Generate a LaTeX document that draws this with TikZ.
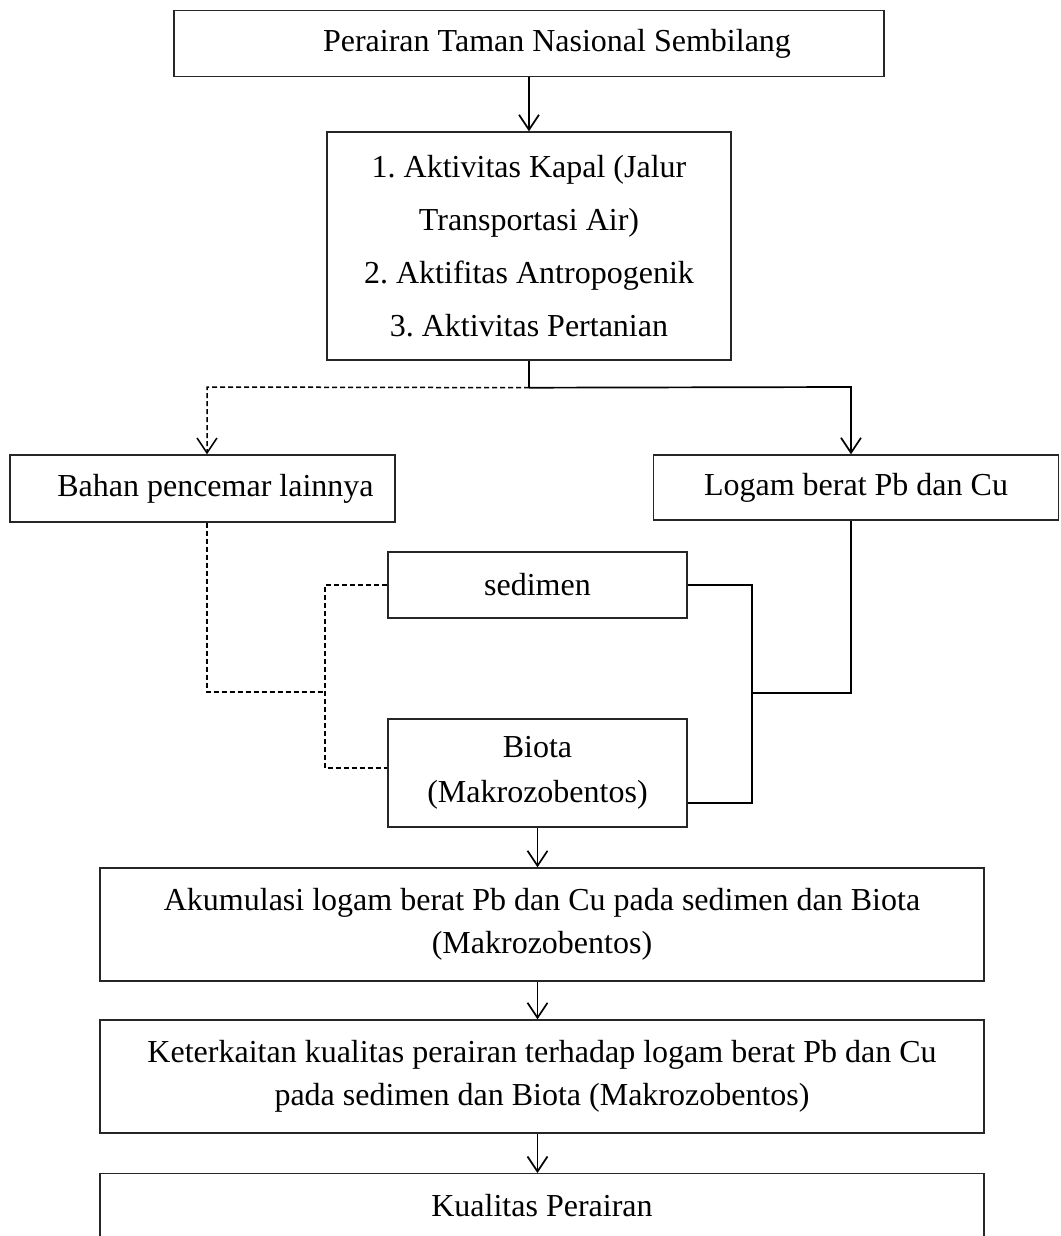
\documentclass[tikz,border=0pt]{standalone}
\usepackage{fontspec}
\setmainfont{Liberation Serif}
\usetikzlibrary{arrows.meta,calc}
\frenchspacing
\begin{document}
\begin{tikzpicture}[x=1pt,y=-1pt,
  box/.style={draw=black!85, line width=1.4pt, rectangle, inner sep=0pt, align=center,
    font=\fontsize{32}{43}\selectfont},
  conn/.style={line width=1.7pt},
  dconn/.style={line width=1.5pt, dash pattern=on 5pt off 3pt},
  arr/.style={-{Straight Barb[length=15pt,width=20pt]}}
]
\useasboundingbox (0,0) rectangle (1060,1236);
\clip (0,0) rectangle (1060,1236);

\node[box, minimum width=710pt, minimum height=66pt] (top) at (529,43.5) {\hspace*{56pt}Perairan Taman Nasional Sembilang};
\node[box, minimum width=404pt, minimum height=228pt, font=\fontsize{32}{53}\selectfont] (act) at (529,246)
  {1. Aktivitas Kapal (Jalur\\Transportasi Air)\\2. Aktifitas Antropogenik\\3. Aktivitas Pertanian};
\node[box, minimum width=385pt, minimum height=67pt] (bahan) at (202.5,488.5) {\hspace*{26pt}Bahan pencemar lainnya};
\node[box, minimum width=405pt, minimum height=65pt] (logam) at (856,487.5) {Logam berat Pb dan Cu};
\node[box, minimum width=299pt, minimum height=66pt] (sed) at (537.5,585) {sedimen};
\node[box, minimum width=299pt, minimum height=108pt, font=\fontsize{32}{45}\selectfont] (biota) at (537.5,773) {Biota\\(Makrozobentos)};
\node[box, minimum width=884pt, minimum height=113pt] (akum) at (542,924.5)
  {Akumulasi logam berat Pb dan Cu pada sedimen dan Biota\\(Makrozobentos)};
\node[box, minimum width=884pt, minimum height=113pt] (ket) at (542,1076.5)
  {Keterkaitan kualitas perairan terhadap logam berat Pb dan Cu\\pada sedimen dan Biota (Makrozobentos)};
\node[box, minimum width=884pt, anchor=north, inner ysep=0pt, text height=43pt, text depth=60pt] (kual) at (542,1173)
  {Kualitas Perairan};

% top part
\draw[conn,arr] (top.south) -- (act.north);
\coordinate (split) at ($(act.south)+(0,27)$);
\coordinate (dl) at (207,387);
\coordinate (dr) at (851,387);
\draw[conn] (act.south) -- (split);
\draw[dconn,arr] (split) -- (dl) -- (dl |- bahan.north);
\draw[conn,arr] (split) -- (dr) -- (dr |- logam.north);

% left dashed
\coordinate (lj) at (325,692);
\coordinate (lt) at (325,585);
\coordinate (lb) at (325,768);
\draw[dconn] (dl |- bahan.south) |- (lj);
\draw[dconn] (sed.west) -- (lt) -- (lb) -- (biota.west |- lb);

% right solid
\coordinate (rt) at (752,585);
\coordinate (rb) at (752,803);
\coordinate (rj) at (752,693);
\draw[conn] (sed.east) -- (rt) -- (rb) -- (biota.east |- rb);
\draw[conn] (rj) -| (dr |- logam.south);

% bottom chain
\draw[conn,arr] (biota.south) -- (biota.south |- akum.north);
\draw[conn,arr] (biota.south |- akum.south) -- (biota.south |- ket.north);
\draw[conn,arr] (biota.south |- ket.south) -- (biota.south |- kual.north);
\end{tikzpicture}
\end{document}
